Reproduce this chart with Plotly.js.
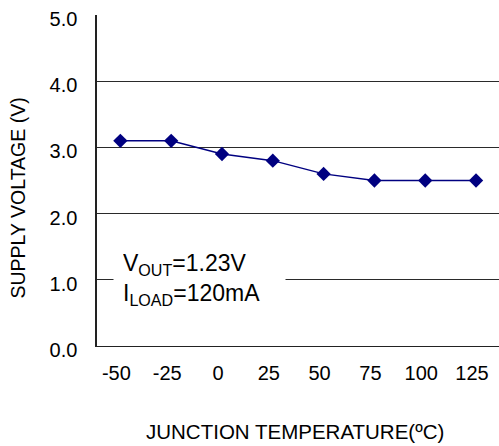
<!DOCTYPE html>
<html>
<head>
<meta charset="utf-8">
<script src="https://cdn.plot.ly/plotly-3.0.1.min.js"></script>
<style>html,body{margin:0;padding:0;background:#fff;}#chart{width:499px;height:446px;}</style>
</head>
<body>
<div id="chart"></div>
<script>
const temperatures = [-50, -25, 0, 25, 50, 75, 100, 125];
const tempLabels = ["-50", "-25", "0", "25", "50", "75", "100", "125"];
const supplyVoltage = [3.1, 3.1, 2.9, 2.8, 2.6, 2.5, 2.5, 2.5];
const yTicks = [0, 1, 2, 3, 4, 5];
const yTickLabels = ["0.0", "1.0", "2.0", "3.0", "4.0", "5.0"];

const FONT = "Liberation Sans, Arial, sans-serif";

const trace = {
  x: temperatures,
  y: supplyVoltage,
  type: "scatter",
  mode: "lines+markers",
  line: {color: "#000080", width: 1.5},
  marker: {symbol: "diamond", size: 11, color: "#000080"},
  hoverinfo: "x+y",
  showlegend: false
};

const layout = {
  width: 499,
  height: 446,
  margin: {l: 97, r: 0, t: 15, b: 100, pad: 0},
  paper_bgcolor: "#fff",
  plot_bgcolor: "#fff",
  font: {family: FONT, size: 20, color: "#000"},
  xaxis: {
    type: "linear",
    range: [-61.5, 136.3],
    tickvals: temperatures,
    ticktext: tempLabels,
    showgrid: false,
    zeroline: false,
    showline: true,
    linecolor: "#222",
    linewidth: 1.2,
    ticks: "",
    ticklabelstandoff: 9,
    ticklabelshift: -4,
    tickfont: {family: FONT, size: 20, color: "#000"},
    fixedrange: true
  },
  yaxis: {
    range: [0, 5],
    tickvals: yTicks,
    ticktext: yTickLabels,
    showgrid: true,
    gridcolor: "#2a2a2a",
    gridwidth: 1.2,
    zeroline: false,
    showline: true,
    linecolor: "#222",
    linewidth: 1.6,
    ticks: "",
    ticklabelstandoff: 14,
    ticklabelshift: 4,
    tickfont: {family: FONT, size: 20, color: "#000"},
    fixedrange: true
  },
  annotations: [
    {
      text: "V<sub>OUT</sub>=1.23V<br>I<sub>LOAD</sub>=120mA",
      xref: "paper", yref: "y",
      x: (113 - 97) / 402, y: 1.0,
      xanchor: "left", yanchor: "middle",
      align: "left",
      showarrow: false,
      bgcolor: "#fff",
      borderpad: 9,
      width: 153,
      font: {family: FONT, size: 23, color: "#000"}
    },
    {
      text: "SUPPLY VOLTAGE (V)",
      xref: "paper", yref: "paper",
      x: (17.5 - 97) / 402, y: (345.5 - 197.5) / 331,
      xanchor: "center", yanchor: "middle",
      textangle: -90,
      showarrow: false,
      font: {family: FONT, size: 19.5, color: "#000"}
    },
    {
      text: "JUNCTION TEMPERATURE(ºC)",
      xref: "paper", yref: "paper",
      x: (295 - 97) / 402, y: (345.5 - 431) / 331,
      xanchor: "center", yanchor: "middle",
      showarrow: false,
      font: {family: FONT, size: 20.5, color: "#000"}
    }
  ]
};

Plotly.newPlot("chart", [trace], layout, {displayModeBar: false, staticPlot: true});
</script>
</body>
</html>
